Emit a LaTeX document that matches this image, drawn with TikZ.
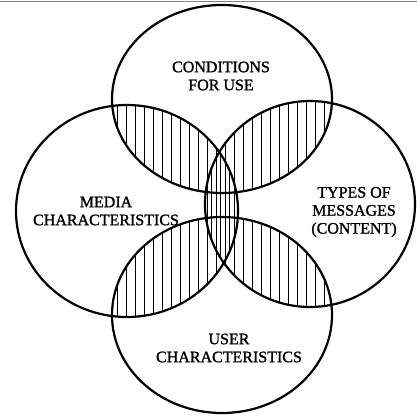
\documentclass[tikz,border=0pt]{standalone}
\usepackage{fontspec}
\setmainfont{Liberation Serif}[FakeBold=1.4,AutoFakeBold=1.4]
\usetikzlibrary{positioning}
\tikzset{
  ring/.style={draw=black,line width=2.2pt},
  hatch/.style={draw=black,line width=0.7pt},
  label-text/.style={align=center,inner sep=0pt,
    font=\fontsize{16}{18}\selectfont},
}
% the four sets, as paths
\def\ringTop{(cTop) ellipse [x radius=110pt, y radius=94pt]}
\def\ringLeft{(cLeft) ellipse [x radius=111pt, y radius=106pt]}
\def\ringRight{(cRight) ellipse [x radius=105pt, y radius=103pt]}
\def\ringBottom{(cBottom) ellipse [x radius=110pt, y radius=98pt]}

\begin{document}
\begin{tikzpicture}[x=1pt,y=-1pt]
  \useasboundingbox (0,0) rectangle (417,415);
  \coordinate (cTop) at (222,99);
  \coordinate (cLeft) at (127,211);
  \coordinate (cRight) at (310,204);
  \coordinate (cBottom) at (222,315);

  % hatched overlaps
  \foreach \a/\b in {ringTop/ringLeft,ringTop/ringRight,
                     ringBottom/ringLeft,ringBottom/ringRight}{
    \begin{scope}
      \clip \csname\a\endcsname;
      \clip \csname\b\endcsname;
      \foreach \x in {0,9,...,417}
        \draw[hatch] (\x,0) -- (\x,415);
    \end{scope}
  }
  \begin{scope}
    \clip \ringLeft;
    \clip \ringRight;
    \foreach \x in {0,4.5,...,417}
      \draw[hatch] (\x,0) -- (\x,415);
  \end{scope}

  % outlines
  \draw[ring] \ringTop;
  \draw[ring] \ringLeft;
  \draw[ring] \ringRight;
  \draw[ring] \ringBottom;
  \draw[gray,line width=1pt] (0,1) -- (417,1);

  % labels
  \node[label-text] (cond) at (221,76) {CONDITIONS\\FOR USE};
  \node[label-text] (media) at (106,211) {MEDIA\\CHARACTERISTICS};
  \node[label-text] (types) at (354,212) {TYPES OF\\MESSAGES\\(CONTENT)};
  \node[label-text] (user) at (229,348) {USER\\CHARACTERISTICS};
\end{tikzpicture}
\end{document}
